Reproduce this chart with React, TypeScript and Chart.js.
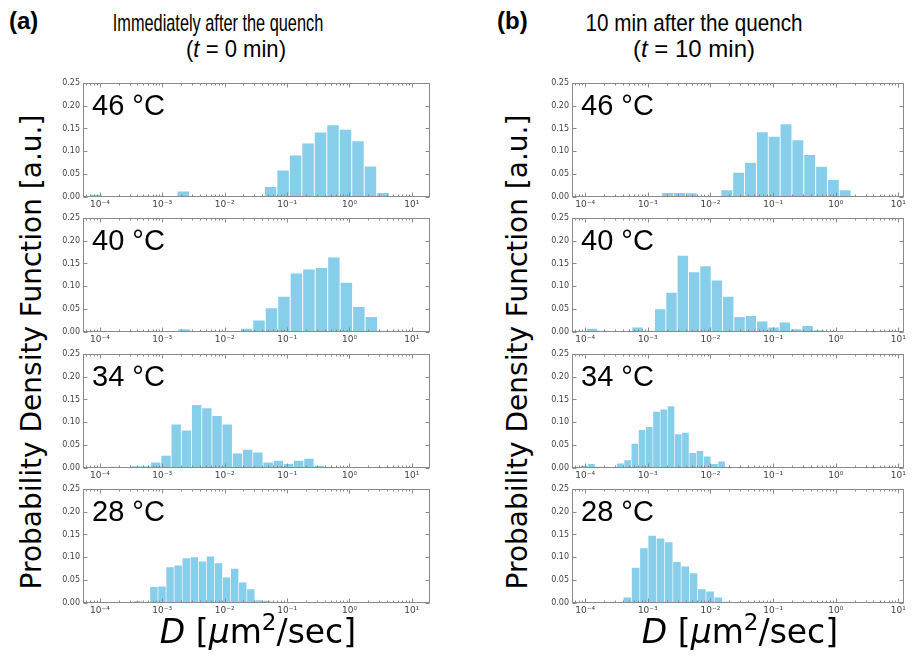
import React, { useEffect, useRef } from "react";
import { Chart, registerables } from "chart.js";

Chart.register(...registerables);

// ---------- axis ticks ----------
const decadeExponents = [-4, -3, -2, -1, 0, 1];
const yTickValues = [0, 0.05, 0.1, 0.15, 0.2, 0.25];
const temperatureLabels = ["46 °C", "40 °C", "34 °C", "28 °C"];

// ---------- (a) t = 0 min : histogram bins in log10(D) ----------
const binStartT0 = [-4.164, -4.15, -3.84, -4.104];
const binWidthT0 = [0.2, 0.2, 0.1636, 0.1294];
const pdf46T0 = [0.005, 0, 0, 0, 0.003, 0.003, 0, 0.012, 0.002, 0.002, 0, 0, 0.001, 0.002, 0.022, 0.058, 0.091, 0.117, 0.141, 0.157, 0.147, 0.122, 0.067, 0.009];
const pdf40T0 = [0.003, 0, 0.001, 0, 0.002, 0.002, 0, 0.006, 0.002, 0, 0, 0, 0.007, 0.025, 0.052, 0.077, 0.128, 0.137, 0.14, 0.163, 0.108, 0.055, 0.033, 0.003];
const pdf34T0 = [0.003, 0.001, 0.004, 0.004, 0.012, 0.027, 0.095, 0.082, 0.138, 0.131, 0.114, 0.095, 0.032, 0.04, 0.034, 0.012, 0.016, 0.009, 0.016, 0.02, 0.005, 0.002, 0.001];
const pdf28T0 = [0.002, 0.002, 0, 0, 0, 0.004, 0.002, 0.035, 0.036, 0.078, 0.082, 0.098, 0.1, 0.091, 0.102, 0.087, 0.056, 0.075, 0.045, 0.03, 0.006, 0.005, 0.003, 0.001];

// ---------- (b) t = 10 min ----------
const binStartT10 = [-4.101, -3.979, -4.072, -3.92];
const binWidthT10 = [0.189, 0.181, 0.1154, 0.132];
const pdf46T10 = [0.002, 0.002, 0.001, 0, 0, 0.001, 0.001, 0.009, 0.009, 0.008, 0, 0.002, 0.015, 0.053, 0.075, 0.142, 0.132, 0.159, 0.124, 0.092, 0.066, 0.037, 0.015, 0.001];
const pdf40T10 = [0.007, 0.003, 0, 0, 0.01, 0.003, 0.05, 0.086, 0.167, 0.131, 0.144, 0.113, 0.077, 0.033, 0.035, 0.023, 0.01, 0.021, 0.006, 0.013, 0.004, 0.002, 0.001, 0.001];
const pdf34T10 = [0.005, 0.009, 0.003, 0, 0, 0.01, 0.017, 0.053, 0.083, 0.09, 0.123, 0.128, 0.135, 0.074, 0.077, 0.033, 0.037, 0.025, 0.009, 0.014, 0.001, 0.001];
const pdf28T10 = [0.002, 0, 0.003, 0, 0.012, 0.077, 0.12, 0.147, 0.141, 0.133, 0.09, 0.08, 0.065, 0.03, 0.025, 0.012, 0.003, 0.001];

const valuesT0 = [pdf46T0, pdf40T0, pdf34T0, pdf28T0];
const valuesT10 = [pdf46T10, pdf40T10, pdf34T10, pdf28T10];

// ---------- layout ----------
const PANEL_TOPS = [81, 216, 352, 487];
const PANEL_H = 116;
const YAXW = 36;
const XAXH = 16;
const PADT = 6;
const PADR = 8;
const BAR_COLOR = "#87CEEB";

const SUP: Record<string, string> = { "-": "⁻", "0": "⁰", "1": "¹", "2": "²", "3": "³", "4": "⁴", "5": "⁵", "6": "⁶", "7": "⁷", "8": "⁸", "9": "⁹" };
const expLabel = (v: number) => {
  const e = Math.round(Math.log10(v));
  return "10" + String(e).split("").map((c) => SUP[c] || c).join("");
};

const framePlugin = {
  id: "frame",
  afterDatasetsDraw(chart: any, _args: any, opts: any) {
    const { ctx, chartArea: a, scales } = chart;
    const xs = scales.x;
    const ys = scales.y;
    ctx.save();
    ctx.strokeStyle = "#8a8a8a";
    ctx.lineWidth = 1;
    const L = Math.round(a.left) + 0.5;
    const R = Math.round(a.right) - 0.5;
    const T = Math.round(a.top) + 0.5;
    const B = Math.round(a.bottom) - 0.5;
    ctx.strokeRect(L, T, R - L, B - T);
    ctx.beginPath();
    for (let e = -5; e <= 2; e++) {
      for (let m = 1; m <= 9; m++) {
        const v = m * Math.pow(10, e);
        if (v <= xs.min || v >= xs.max) continue;
        const px = Math.round(xs.getPixelForValue(v)) + 0.5;
        const len = m === 1 ? 4 : 2;
        ctx.moveTo(px, B);
        ctx.lineTo(px, B - len);
        ctx.moveTo(px, T);
        ctx.lineTo(px, T + len);
      }
    }
    for (const v of yTickValues) {
      const py = Math.round(ys.getPixelForValue(v)) + 0.5;
      ctx.moveTo(L, py);
      ctx.lineTo(L + 4, py);
      ctx.moveTo(R, py);
      ctx.lineTo(R - 4, py);
    }
    ctx.stroke();
    ctx.fillStyle = "#000";
    ctx.font = '29px "Liberation Sans", Arial, sans-serif';
    ctx.textBaseline = "alphabetic";
    ctx.textAlign = "left";
    ctx.fillText(opts.text, a.left + 9, a.top + 32);
    ctx.restore();
  },
};

type PanelProps = {
  plotLeft: number;
  plotRight: number;
  plotTop: number;
  xMinExp: number;
  xMaxExp: number;
  binStart: number;
  binWidth: number;
  values: number[];
  label: string;
};

function Panel(p: PanelProps) {
  const ref = useRef<HTMLCanvasElement | null>(null);
  const width = YAXW + (p.plotRight - p.plotLeft) + PADR;
  const height = PADT + PANEL_H + XAXH;
  useEffect(() => {
    if (!ref.current) return;
    const data = p.values.map((y, k) => ({ x: Math.pow(10, p.binStart + (k + 0.5) * p.binWidth), y }));
    const chart = new Chart(ref.current, {
      type: "bar",
      data: {
        datasets: [
          {
            data,
            backgroundColor: BAR_COLOR,
            borderWidth: 0,
            barPercentage: 0.92,
            categoryPercentage: 1,
          },
        ],
      },
      options: {
        animation: false,
        responsive: false,
        maintainAspectRatio: false,
        devicePixelRatio: 1,
        layout: { padding: { top: PADT, right: PADR, left: 0, bottom: 0 } },
        plugins: {
          legend: { display: false },
          tooltip: { enabled: false },
          frame: { text: p.label },
        } as any,
        scales: {
          x: {
            type: "logarithmic",
            min: Math.pow(10, p.xMinExp),
            max: Math.pow(10, p.xMaxExp),
            grid: { display: false, drawTicks: false },
            border: { display: false },
            afterBuildTicks: (s: any) => {
              s.ticks = decadeExponents.map((e) => ({ value: Math.pow(10, e) }));
            },
            afterFit: (s: any) => {
              s.height = XAXH;
            },
            ticks: {
              autoSkip: false,
              maxRotation: 0,
              minRotation: 0,
              padding: 2,
              font: { family: '"DejaVu Sans", sans-serif', size: 9 },
              color: "#444",
              callback: (v: any) => expLabel(Number(v)),
            },
          },
          y: {
            type: "linear",
            min: 0,
            max: 0.25,
            grid: { display: false, drawTicks: false },
            border: { display: false },
            afterBuildTicks: (s: any) => {
              s.ticks = yTickValues.map((v) => ({ value: v }));
            },
            afterFit: (s: any) => {
              s.width = YAXW;
            },
            ticks: {
              padding: 3,
              font: { family: '"DejaVu Sans", sans-serif', size: 8 },
              color: "#444",
              callback: (v: any) => Number(v).toFixed(2),
            },
          },
        } as any,
      },
      plugins: [framePlugin as any],
    });
    return () => chart.destroy();
  }, []);
  return (
    <canvas
      ref={ref}
      width={width}
      height={height}
      style={{ position: "absolute", left: p.plotLeft - YAXW, top: p.plotTop - PADT, width, height }}
    />
  );
}

const sansTitle = '"Liberation Sans", Arial, sans-serif';
const dejavu = '"DejaVu Sans", sans-serif';

function Title({ text, cx, top, size, bold, sx }: { text: React.ReactNode; cx: number; top: number; size: number; bold?: boolean; sx: number }) {
  return (
    <div
      style={{
        position: "absolute",
        left: cx,
        top,
        fontFamily: sansTitle,
        fontSize: size,
        fontWeight: bold ? "bold" : "normal",
        lineHeight: 1,
        whiteSpace: "nowrap",
        transform: `translateX(-50%) scaleX(${sx})`,
        transformOrigin: "50% 50%",
        color: "#000",
      }}
    >
      {text}
    </div>
  );
}

function YLabel({ cx, cy }: { cx: number; cy: number }) {
  return (
    <div
      style={{
        position: "absolute",
        left: cx - 260,
        top: cy - 18,
        width: 520,
        height: 36,
        lineHeight: "36px",
        textAlign: "center",
        fontFamily: dejavu,
        fontSize: 28,
        whiteSpace: "nowrap",
        transform: "rotate(-90deg)",
        transformOrigin: "50% 50%",
        color: "#000",
      }}
    >
      Probability Density Function [a.u.]
    </div>
  );
}

function XLabel({ cx }: { cx: number }) {
  return (
    <div
      style={{
        position: "absolute",
        left: cx,
        top: 615,
        transform: "translateX(-50%)",
        fontFamily: dejavu,
        fontSize: 33,
        lineHeight: 1,
        whiteSpace: "nowrap",
        color: "#000",
      }}
    >
      <i>D</i> [<i>μ</i>m<span style={{ fontSize: "0.7em", verticalAlign: "0.55em", lineHeight: 0 }}>2</span>/sec]
    </div>
  );
}

export default function App() {
  const leftCol = { plotLeft: 83, plotRight: 430, xMinExp: -4.27, xMaxExp: 1.29 };
  const rightCol = { plotLeft: 572, plotRight: 904, xMinExp: -4.21, xMaxExp: 1.09 };
  return (
    <div style={{ position: "fixed", left: 0, top: 0, width: 914, height: 659, background: "#fff", overflow: "hidden" }}>
      <div style={{ position: "absolute", left: 9, top: 9, fontFamily: sansTitle, fontSize: 24, fontWeight: "bold", lineHeight: 1 }}>(a)</div>
      <div style={{ position: "absolute", left: 497, top: 9, fontFamily: sansTitle, fontSize: 24, fontWeight: "bold", lineHeight: 1 }}>(b)</div>
      <Title text={"Immediately  after the quench"} cx={218} top={11} size={24} sx={0.68} />
      <Title text={<span>(<i>t</i> = 0 min)</span>} cx={236} top={37} size={24} sx={0.92} />
      <Title text={"10 min after the quench"} cx={694} top={11} size={24} sx={0.86} />
      <Title text={<span>(<i>t</i> = 10 min)</span>} cx={694} top={37} size={24} sx={1.0} />
      <YLabel cx={32} cy={352} />
      <YLabel cx={518} cy={352} />
      {PANEL_TOPS.map((top, i) => (
        <Panel
          key={"L" + i}
          {...leftCol}
          plotTop={top}
          binStart={binStartT0[i]}
          binWidth={binWidthT0[i]}
          values={valuesT0[i]}
          label={temperatureLabels[i]}
        />
      ))}
      {PANEL_TOPS.map((top, i) => (
        <Panel
          key={"R" + i}
          {...rightCol}
          plotTop={top}
          binStart={binStartT10[i]}
          binWidth={binWidthT10[i]}
          values={valuesT10[i]}
          label={temperatureLabels[i]}
        />
      ))}
      <XLabel cx={258} />
      <XLabel cx={740} />
    </div>
  );
}
